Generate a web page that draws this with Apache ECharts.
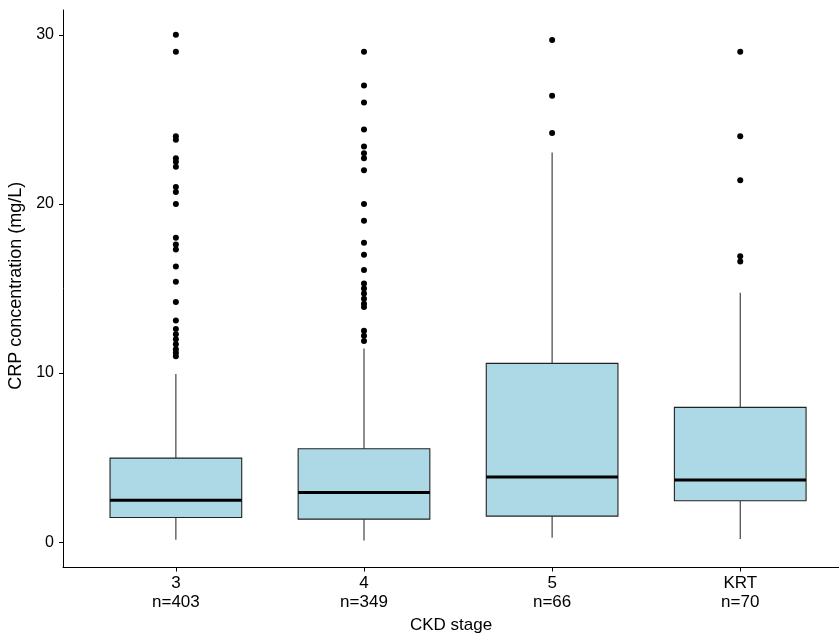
<!DOCTYPE html>
<html>
<head>
<meta charset="utf-8">
<script src="https://cdn.jsdelivr.net/npm/echarts@6/dist/echarts.min.js"></script>
<style>
html,body{margin:0;padding:0;background:#fff;}
#chart{width:839px;height:635px;}
</style>
</head>
<body>
<div id="chart"></div>
<script>
const categories = ['3', '4', '5', 'KRT'];
const counts = [403, 349, 66, 70];
const whiskerLow = [0.14, 0.10, 0.26, 0.18];
const q1 = [1.46, 1.36, 1.54, 2.45];
const median = [2.47, 2.94, 3.85, 3.67];
const q3 = [4.97, 5.52, 10.57, 7.97];
const whiskerHigh = [9.95, 11.45, 23.05, 14.75];
const outliers3 = [30, 29, 24, 23.8, 22.7, 22.5, 22.2, 21, 20.7, 20, 18, 17.6, 17.3, 16.3, 15.4, 14.2, 13.1, 12.6, 12.3, 12.0, 11.7, 11.4, 11.2, 11.0];
const outliers4 = [29, 27, 26, 24.4, 23.4, 23.0, 22.7, 22.0, 20.0, 19.0, 17.7, 17.0, 16.1, 15.3, 15.0, 14.7, 14.4, 14.1, 13.9, 12.5, 12.2, 11.9];
const outliers5 = [29.7, 26.4, 24.2];
const outliersKRT = [29, 24, 21.4, 16.9, 16.6];
const yTicks = [0, 10, 20, 30];

const outlierGroups = [outliers3, outliers4, outliers5, outliersKRT];
const outlierData = [];
outlierGroups.forEach((arr, i) => arr.forEach(v => outlierData.push([i + 1, v])));
const boxData = categories.map((c, i) => [i + 1, whiskerLow[i], q1[i], median[i], q3[i], whiskerHigh[i]]);

const FONT = 'Liberation Sans, Arial, sans-serif';
const chart = echarts.init(document.getElementById('chart'));
chart.setOption({
  animation: false,
  backgroundColor: '#fff',
  grid: { left: 63, right: 0, top: 10, bottom: 67.5, containLabel: false, outerBoundsMode: 'none' },
  xAxis: {
    type: 'value', min: 0.4, max: 4.525,
    name: 'CKD stage', nameLocation: 'middle', nameGap: 49,
    nameTextStyle: { color: '#000', fontSize: 17, fontFamily: FONT },
    axisLine: { show: true, onZero: false, lineStyle: { color: '#000', width: 1 } },
    axisTick: { show: true, length: 4, customValues: [1, 2, 3, 4], lineStyle: { color: '#000' } },
    axisLabel: {
      customValues: [1, 2, 3, 4], margin: 6, color: '#000', fontSize: 17, lineHeight: 19, fontFamily: FONT,
      formatter: v => categories[Math.round(v) - 1] + '\nn=' + counts[Math.round(v) - 1]
    },
    splitLine: { show: false }
  },
  yAxis: {
    type: 'value', min: -1.5, max: 31.47,
    name: 'CRP concentration (mg/L)', nameLocation: 'middle', nameGap: 30,
    nameTextStyle: { color: '#000', fontSize: 18, fontFamily: FONT, padding: [0, 0, 0, 6] },
    axisLine: { show: true, onZero: false, lineStyle: { color: '#000', width: 1 } },
    axisTick: { show: true, length: 4, customValues: yTicks, lineStyle: { color: '#000' } },
    axisLabel: { customValues: yTicks, margin: 9, color: '#000', fontSize: 16, fontFamily: FONT },
    splitLine: { show: false }
  },
  series: [
    {
      type: 'custom',
      data: boxData,
      encode: { x: 0, y: [1, 2, 3, 4, 5] },
      renderItem: function (params, api) {
        const x = api.value(0);
        const half = api.size([0.7, 0])[0] / 2;
        const pLow = api.coord([x, api.value(1)]);
        const pQ1 = api.coord([x, api.value(2)]);
        const pMed = api.coord([x, api.value(3)]);
        const pQ3 = api.coord([x, api.value(4)]);
        const pHigh = api.coord([x, api.value(5)]);
        const cx = pLow[0];
        const lineStyle = { stroke: '#333', lineWidth: 1.1 };
        return {
          type: 'group',
          children: [
            { type: 'line', shape: { x1: cx, y1: pQ3[1], x2: cx, y2: pHigh[1] }, style: lineStyle },
            { type: 'line', shape: { x1: cx, y1: pLow[1], x2: cx, y2: pQ1[1] }, style: lineStyle },
            { type: 'rect', shape: { x: cx - half, y: pQ3[1], width: 2 * half, height: pQ1[1] - pQ3[1] },
              style: { fill: '#ADD8E6', stroke: '#222', lineWidth: 1.1 } },
            { type: 'line', shape: { x1: cx - half, y1: pMed[1], x2: cx + half, y2: pMed[1] },
              style: { stroke: '#000', lineWidth: 3 } }
          ]
        };
      }
    },
    {
      type: 'scatter',
      data: outlierData,
      symbol: 'circle',
      symbolSize: 6,
      itemStyle: { color: '#000', opacity: 1 }
    }
  ]
});
</script>
</body>
</html>
